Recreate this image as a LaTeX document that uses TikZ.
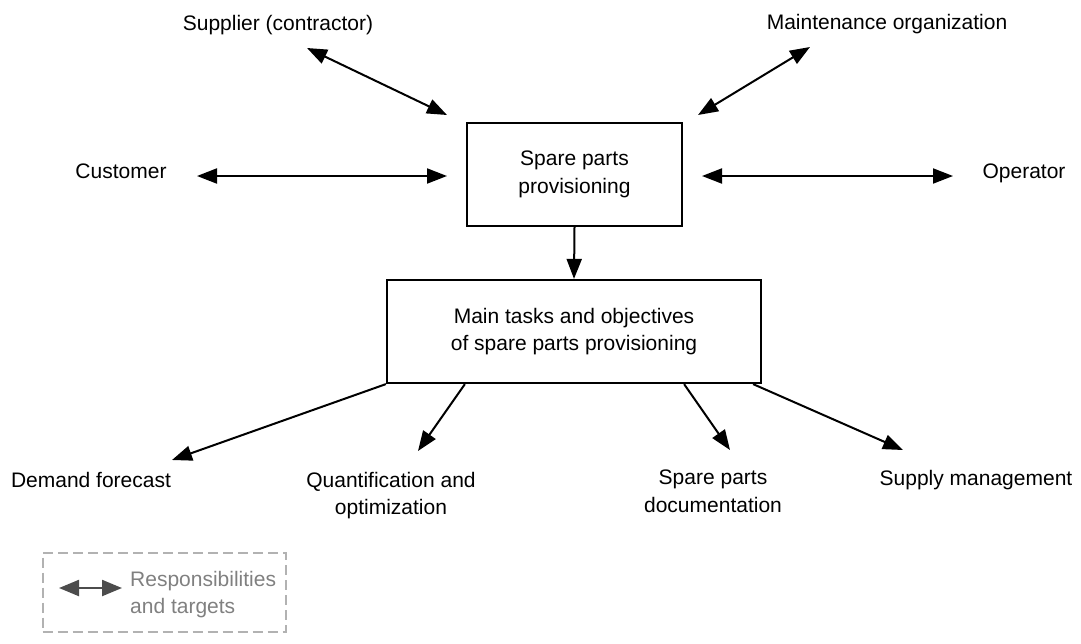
\documentclass[tikz,border=0pt]{standalone}
\usepackage{fontspec}
\setmainfont{Liberation Sans}
\usetikzlibrary{arrows.meta}
\begin{document}
\begin{tikzpicture}[x=1pt,y=-1pt,
  txt/.style={font=\fontsize{21}{27.5}\selectfont},
  box/.style={draw, line width=2.2pt, align=center, inner sep=0pt, txt},
  lbl/.style={align=center, inner sep=0pt, txt},
  link/.style={line width=2pt, -{Triangle[length=20pt,width=15pt]}},
  both/.style={line width=2pt, {Triangle[length=20pt,width=15pt]}-{Triangle[length=20pt,width=15pt]}},
  legendline/.style={line width=2.2pt, draw=black!70, {Triangle[length=20pt,width=16pt]}-{Triangle[length=20pt,width=16pt]}}]
\useasboundingbox (0,0) rectangle (1081,643);

% central boxes
\node[box, minimum width=215pt, minimum height=103pt] (spp) at (574.5,174.5) {Spare parts\\provisioning};
\node[box, minimum width=374pt, minimum height=103pt] (main) at (574,331.5) {Main tasks and objectives\\of spare parts provisioning};

% stakeholders around the provisioning box
\node[lbl, anchor=base] (sup) at (278,30) {Supplier (contractor)};
\node[lbl, anchor=base] (mnt) at (887,29) {Maintenance organization};
\node[lbl, anchor=base] (cus) at (121,178) {Customer};
\node[lbl, anchor=base] (opr) at (1024,178) {Operator};

\coordinate (supE) at (307,48);
\coordinate (supI) at (447,115);
\coordinate (mntE) at (810,47);
\coordinate (mntI) at (698,115);
\coordinate (cusE) at (197,176);
\coordinate (cusI) at (447,176);
\coordinate (oprE) at (953,176);
\coordinate (oprI) at (702,176);

\draw[both] (supE) -- (supI);
\draw[both] (mntE) -- (mntI);
\draw[both] (cusE) -- (cusI);
\draw[both] (oprE) -- (oprI);

\draw[link] (spp.south) -- (main.north);

% main tasks
\node[lbl, anchor=north] (dem) at (91,472) {Demand forecast};
\node[lbl, anchor=north] (qua) at (391,472) {Quantification and\\optimization};
\node[lbl, anchor=north] (doc) at (713,470) {Spare parts\\documentation};
\node[lbl, anchor=north] (suy) at (976,470) {Supply management};

\coordinate (demT) at (172,460);
\coordinate (quaT) at (418,451);
\coordinate (docT) at (730,450);
\coordinate (suyT) at (903,450);

\draw[link] (main.south west) -- (demT);
\draw[link] ([xshift=79pt]main.south west) -- (quaT);
\draw[link] ([xshift=-78pt]main.south east) -- (docT);
\draw[link] ([xshift=-9pt]main.south east) -- (suyT);

% legend
\node[draw=black!30, line width=2pt, dash pattern=on 10pt off 5pt, minimum width=243pt, minimum height=79pt, inner sep=0pt] (leg) at (164,592) {};
\coordinate (legA) at (59,588);
\coordinate (legB) at (122,588);
\draw[legendline] (legA) -- (legB);
\node[lbl, text=black!50, align=left, anchor=north west] (legt) at (130,571) {Responsibilities\\and targets};
\end{tikzpicture}
\end{document}
